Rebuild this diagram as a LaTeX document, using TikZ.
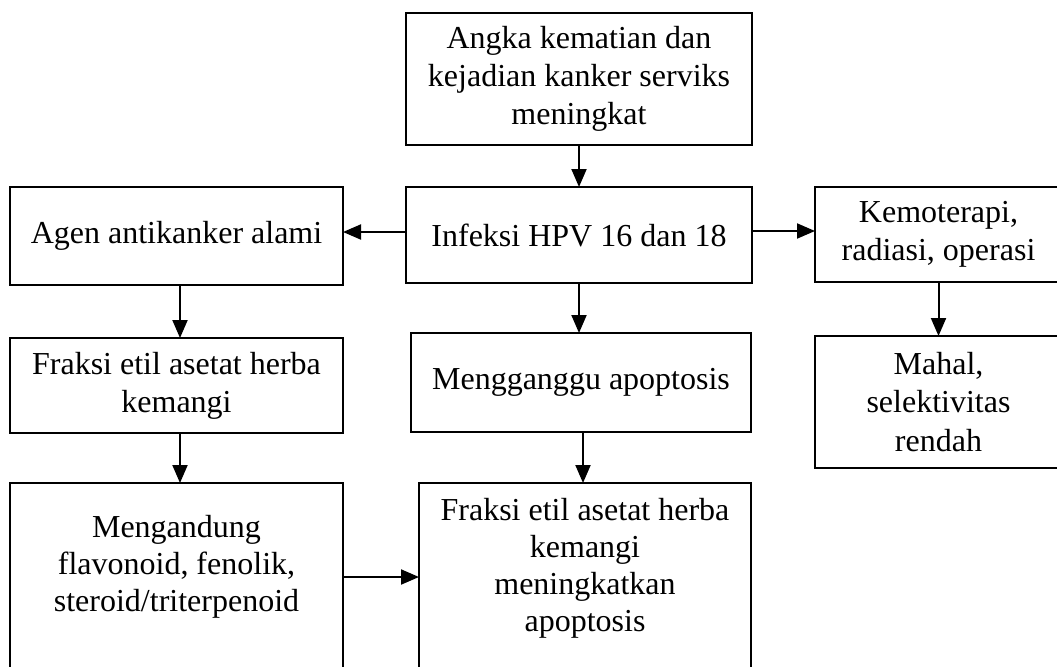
\documentclass[tikz,border=0pt]{standalone}
\usepackage{fontspec}
\setmainfont{Liberation Serif}
\usetikzlibrary{arrows.meta}
\tikzset{
  box/.style={draw, line width=0.8pt, inner sep=0pt, outer sep=0pt, align=center,
    font=\fontsize{12.8}{15.3}\selectfont},
  txt/.style={inner sep=0pt, align=center, font=\fontsize{12.8}{14.8}\selectfont},
  arr/.style={-{Triangle[length=7.2pt,width=6pt]}, line width=0.8pt}
}
\begin{document}
\begin{tikzpicture}[x=0.4pt, y=-0.4pt]
\useasboundingbox (0,0) rectangle (1057,666);
\clip (0,0) rectangle (1057,666);
\node[box, minimum width=138.4pt, minimum height=52.8pt] (top) at (579,79)
  {Angka kematian dan\\kejadian kanker serviks\\meningkat};
\node[box, minimum width=138.4pt, minimum height=38.4pt] (hpv) at (579,235)
  {Infeksi HPV 16 dan 18};
\node[box, minimum width=133.2pt, minimum height=39.2pt] (agen) at (176.5,236)
  {Agen antikanker alami};
\node[box, minimum width=98.8pt, minimum height=38pt] (kemo) at (938.5,234.5)
  {Kemoterapi,\\radiasi, operasi};
\node[box, minimum width=133.2pt, minimum height=38pt] (fraksi) at (176.5,385.5)
  {Fraksi etil asetat herba\\kemangi};
\node[box, minimum width=136pt, minimum height=39.6pt] (ganggu) at (581,382.5)
  {Mengganggu apoptosis};
\node[box, minimum width=98.8pt, minimum height=52.8pt] (mahal) at (938.5,402)
  {Mahal,\\selektivitas\\rendah};
\node[box, minimum width=133.2pt, minimum height=86.8pt] (mengandung) at (176.5,591.5) {};
\node[txt] (mengandungtext) at (176.5,567)
  {Mengandung\\flavonoid, fenolik,\\steroid/triterpenoid};
\node[box, minimum width=132.8pt, minimum height=86.8pt] (fraksidua) at (585,591.5) {};
\node[txt] (fraksiduatext) at (585,568)
  {Fraksi etil asetat herba\\kemangi\\meningkatkan\\apoptosis};
\coordinate (ay) at (0,232);
\coordinate (by) at (0,231);
\coordinate (lx) at (180,0);
\coordinate (cx) at (583,0);
\coordinate (my) at (0,577);
\draw[arr] (top.south) -- (hpv.north);
\draw[arr] (hpv.west |- ay) -- (agen.east |- ay);
\draw[arr] (hpv.east |- by) -- (kemo.west |- by);
\draw[arr] (hpv.south) -- (hpv.south |- ganggu.north);
\draw[arr] (ganggu.south -| cx) -- (fraksidua.north -| cx);
\draw[arr] (agen.south -| lx) -- (fraksi.north -| lx);
\draw[arr] (fraksi.south -| lx) -- (mengandung.north -| lx);
\draw[arr] (kemo.south) -- (mahal.north);
\draw[arr] (mengandung.east |- my) -- (fraksidua.west |- my);
\end{tikzpicture}
\end{document}
